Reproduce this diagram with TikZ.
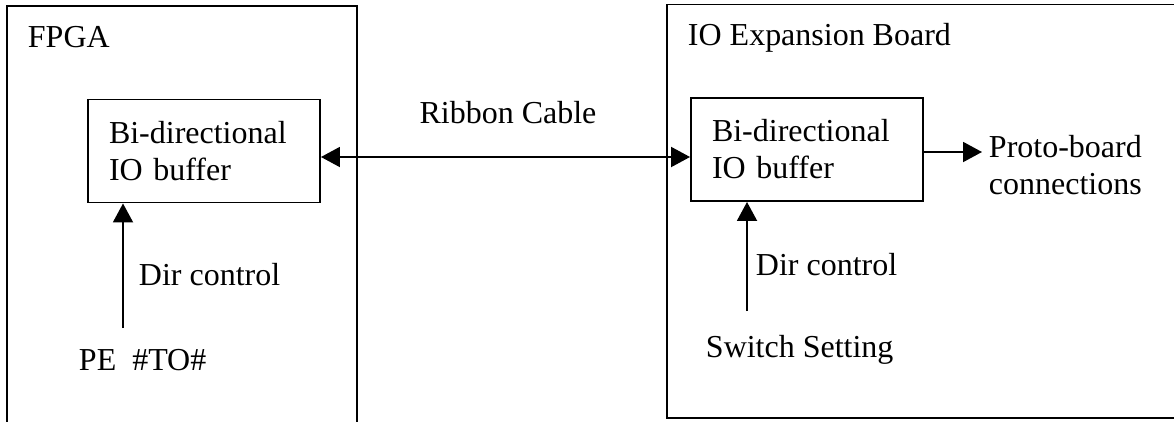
\documentclass[tikz,border=0pt]{standalone}
\usepackage{fontspec}
\setmainfont{Liberation Serif}
\usetikzlibrary{arrows.meta}
\begin{document}
\begin{tikzpicture}[>={Triangle[length=.38cm,width=.4cm]},line width=1.1pt,
  font=\fontsize{18.2}{21}\selectfont,
  board/.style={draw,minimum width=#1,minimum height=8.8cm,inner sep=0},
  buf/.style={draw,text width=3.8cm,inner xsep=.42cm,inner ysep=0,minimum height=2.06cm,align=left},
  txt/.style={anchor=base west,inner sep=0}]
\useasboundingbox (0,0) rectangle (23.48,8.42);
\clip (0,0) rectangle (23.48,8.42);
\node[board=7cm] (fpga) at (3.64,3.90) {};
\node[board=11.2cm,minimum height=8.27cm] (ioexp) at (18.94,4.195) {};
\node[txt] (fpgalbl) at (.54,7.48) {FPGA};
\node[txt] (ioexplbl) at (13.74,7.52) {IO Expansion Board};
\node[buf] (lbuf) at (4.08,5.40) {Bi-directional\\IO buffer};
\node[buf] (rbuf) at (16.14,5.43) {Bi-directional\\IO buffer};
\node[anchor=base,inner sep=0] (ribbon) at (10.16,5.96) {Ribbon Cable};
\coordinate (cable) at (10.16,5.28);
\draw[<->] (lbuf.east |- cable)--(rbuf.west |- cable);
\coordinate (proto) at (19.64,5.38);
\draw[->] (rbuf.east |- proto)--(proto);
\node[anchor=north west,inner sep=0,align=left] (protolbl) at (19.76,5.74) {Proto-board\\connections};
\coordinate (ldir) at (2.46,1.86);
\draw[->] (ldir)--(ldir |- lbuf.south);
\node[txt] (ldirlbl) at (2.76,2.72) {Dir control};
\node[txt] (pe) at (1.56,1.02) {PE\ \ \#TO\#};
\coordinate (rdir) at (14.94,2.20);
\draw[->] (rdir)--(rdir |- rbuf.south);
\node[txt] (rdirlbl) at (15.10,2.92) {Dir control};
\node[txt] (switch) at (14.10,1.28) {Switch Setting};
\end{tikzpicture}
\end{document}
